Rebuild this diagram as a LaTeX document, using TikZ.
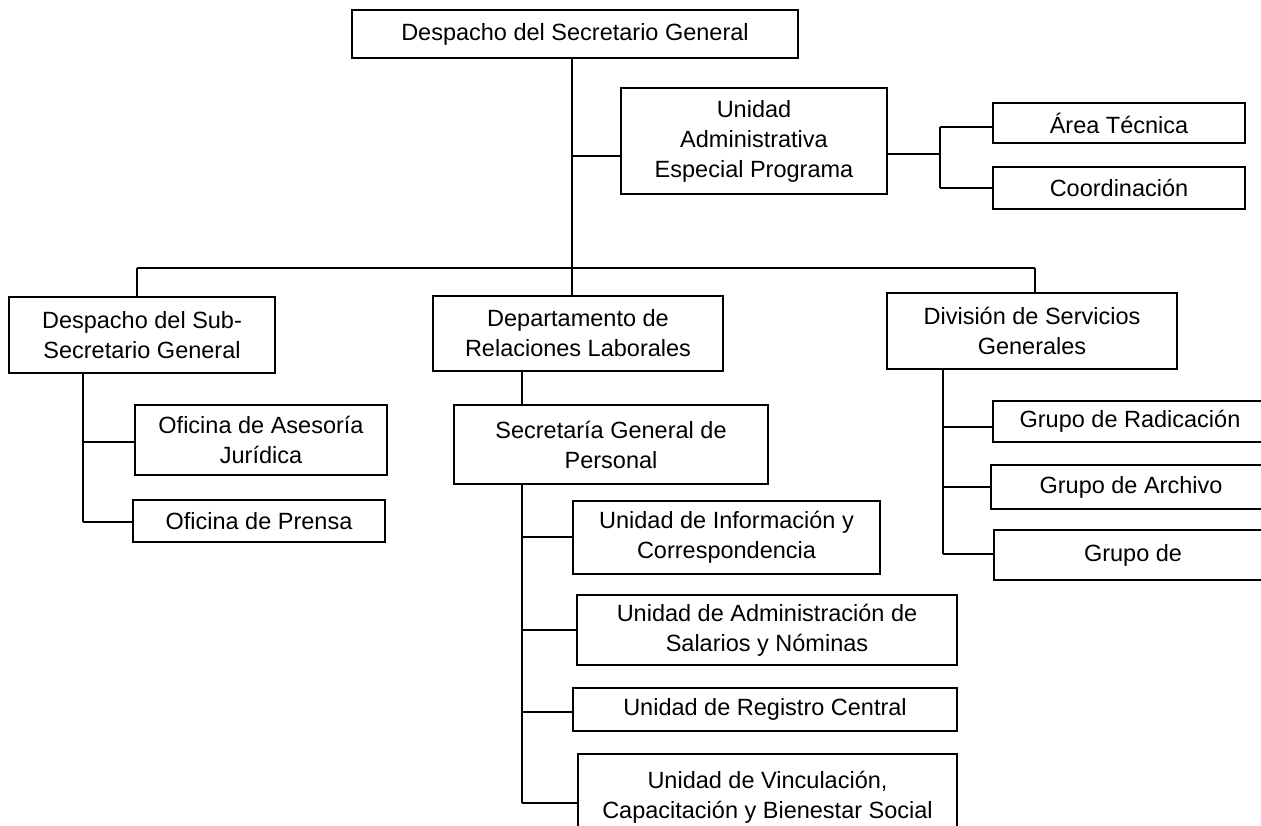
\documentclass[tikz,border=0pt]{standalone}
\usepackage{fontspec}
\setmainfont{Liberation Sans}
\usetikzlibrary{calc}
\begin{document}
\begin{tikzpicture}[x=1pt,y=-1pt,
  box/.style={draw=black,line width=1.2pt,fill=white,align=center,inner sep=0pt,
    font=\fontsize{23.5}{30}\selectfont},
  conn/.style={draw=black,line width=1.1pt}]
\useasboundingbox (0,0) rectangle (1261,825);
\clip (0,0) rectangle (1261,825);
% boxes
\node[box,minimum width=446,minimum height=48] (top) at (575,34) {Despacho del Secretario General};
\node[box,minimum width=266,minimum height=106] (uaep) at (754,141) {Unidad\\Administrativa\\Especial Programa};
\node[box,minimum width=252,minimum height=40] (area) at (1119,123) {Área Técnica};
\node[box,minimum width=252,minimum height=42] (coord) at (1119,188) {Coordinación};
\node[box,minimum width=266,minimum height=76] (sub) at (142,335) {Despacho del Sub-\\Secretario General};
\node[box,minimum width=290,minimum height=75] (dep) at (578,333.5) {Departamento de\\Relaciones Laborales};
\node[box,minimum width=290,minimum height=76] (div) at (1032,331) {División de Servicios\\Generales};
\node[box,minimum width=252,minimum height=70] (ase) at (261,440) {Oficina de Asesoría\\Jurídica};
\node[box,minimum width=252,minimum height=42] (pre) at (259,521) {Oficina de Prensa};
\node[box,minimum width=314,minimum height=79] (sec) at (611,444.5) {Secretaría General de\\Personal};
\node[box,minimum width=307,minimum height=73] (inf) at (726.5,537.5) {Unidad de Información y\\Correspondencia};
\node[box,minimum width=380,minimum height=70] (adm) at (767,630) {Unidad de Administración de\\Salarios y Nóminas};
\node[box,minimum width=384,minimum height=43] (reg) at (765,709.5) {Unidad de Registro Central};
\node[box,minimum width=379,minimum height=87] (vin) at (767.5,797.5) {Unidad de Vinculación,\\Capacitación y Bienestar Social};
\node[box,minimum width=274,minimum height=41] (rad) at (1130,421.5) {Grupo de Radicación};
\node[box,minimum width=280,minimum height=44] (arc) at (1131,487) {Grupo de Archivo};
\node[box,minimum width=278,minimum height=50] (gru) at (1133,555) {Grupo de};
% bus coordinates
\coordinate (t1) at (572,58);
\coordinate (tu) at (572,156);
\coordinate (bus) at (572,268);
\coordinate (bl) at (137,268);
\coordinate (br) at (1035,268);
\coordinate (ur) at (940,154);
\coordinate (ua) at (940,127);
\coordinate (uc) at (940,188);
\coordinate (s1) at (83,373);
\coordinate (s2) at (83,442);
\coordinate (s3) at (83,522);
\coordinate (d1) at (522,371);
\coordinate (p1) at (522,484);
\coordinate (p2) at (522,537);
\coordinate (p3) at (522,630);
\coordinate (p4) at (522,712);
\coordinate (p5) at (522,803);
\coordinate (g1) at (943,369);
\coordinate (g2) at (943,427);
\coordinate (g3) at (943,487);
\coordinate (g4) at (943,554);
% connectors
\draw[conn] (t1) -- (tu) -- (bus) -- (bus |- dep.north);
\draw[conn] (tu) -- (tu -| uaep.west);
\draw[conn] (bl) -- (br);
\draw[conn] (bl) -- (bl |- sub.north);
\draw[conn] (br) -- (br |- div.north);
\draw[conn] (ur -| uaep.east) -- (ur);
\draw[conn] (ua) -- (uc);
\draw[conn] (ua) -- (ua -| area.west);
\draw[conn] (uc) -- (uc -| coord.west);
\draw[conn] (s1) -- (s3);
\draw[conn] (s2) -- (s2 -| ase.west);
\draw[conn] (s3) -- (s3 -| pre.west);
\draw[conn] (d1) -- (d1 |- sec.north);
\draw[conn] (p1) -- (p5);
\draw[conn] (p2) -- (p2 -| inf.west);
\draw[conn] (p3) -- (p3 -| adm.west);
\draw[conn] (p4) -- (p4 -| reg.west);
\draw[conn] (p5) -- (p5 -| vin.west);
\draw[conn] (g1) -- (g4);
\draw[conn] (g2) -- (g2 -| rad.west);
\draw[conn] (g3) -- (g3 -| arc.west);
\draw[conn] (g4) -- (g4 -| gru.west);
\end{tikzpicture}
\end{document}
